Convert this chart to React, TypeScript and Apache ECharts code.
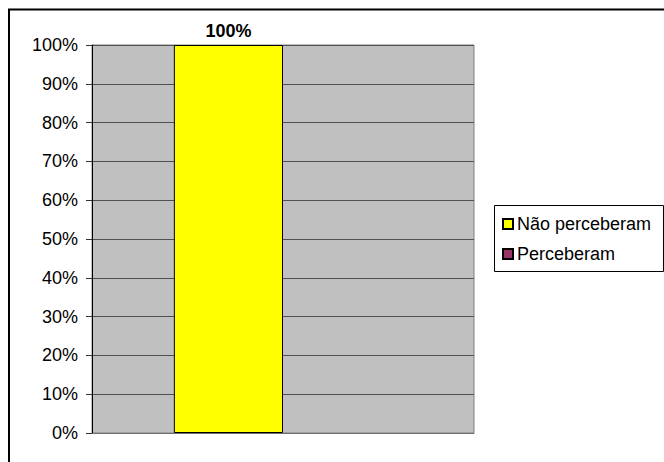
import React, { useEffect, useRef } from "react";
import * as echarts from "echarts";

const categories = [""];
const seriesNames = ["Não perceberam", "Perceberam"];
const naoPerceberam = [100];
const perceberam = [0];
const yTicks = [0, 10, 20, 30, 40, 50, 60, 70, 80, 90, 100];

const FONT = "'Liberation Sans', Arial, sans-serif";

export default function App() {
  const ref = useRef<HTMLDivElement>(null);
  useEffect(() => {
    if (!ref.current) return;
    const chart = echarts.init(ref.current, null, { renderer: "svg" });
    chart.setOption({
      animation: false,
      textStyle: { fontFamily: FONT },
      graphic: [
        {
          type: "rect",
          shape: { x: 9, y: 9.5, width: 700, height: 500 },
          style: { fill: "none", stroke: "#000", lineWidth: 2 },
          z: 0,
        },
        {
          type: "rect",
          shape: { x: 494.5, y: 205.5, width: 169, height: 66 },
          style: { fill: "#fff", stroke: "#000", lineWidth: 1 },
          z: 1,
        },
      ],
      legend: {
        orient: "vertical",
        left: 497,
        top: 210,
        itemWidth: 10,
        itemHeight: 10,
        itemGap: 12,
        icon: "rect",
        textStyle: { fontFamily: FONT, fontSize: 18, color: "#000", padding: [0, 0, 0, -1] },
        data: seriesNames,
        z: 5,
      },
      grid: {
        left: 92,
        top: 45,
        right: 190,
        bottom: 29,
        show: true,
        backgroundColor: "#C0C0C0",
        borderColor: "#808080",
        borderWidth: 1,
      },
      xAxis: {
        type: "category",
        data: categories,
        axisLine: { show: true, lineStyle: { color: "#707070", width: 1 } },
        axisTick: { show: false },
        axisLabel: { show: false },
      },
      yAxis: {
        type: "value",
        min: 0,
        max: 100,
        interval: 10,
        axisLine: { show: true, lineStyle: { color: "#000", width: 1 } },
        axisTick: { show: true, length: 6, lineStyle: { color: "#333" } },
        splitLine: { show: true, lineStyle: { color: "#505050", width: 1 } },
        axisLabel: {
          margin: 14,
          fontFamily: FONT,
          fontSize: 18,
          color: "#000",
          formatter: (v: number) => (yTicks.includes(v) ? v + "%" : ""),
        },
      },
      series: [
        {
          name: seriesNames[0],
          type: "bar",
          data: naoPerceberam,
          barGap: "0%",
          barCategoryGap: "42.86%",
          itemStyle: { color: "#FFFF00", borderColor: "#000", borderWidth: 1 },
          label: {
            show: true,
            position: "top",
            distance: 5,
            fontFamily: FONT,
            fontSize: 18,
            fontWeight: "bold",
            color: "#000",
            formatter: (p: any) => p.value + "%",
          },
        },
        {
          name: seriesNames[1],
          type: "bar",
          data: perceberam.map((v) => ({ value: v, itemStyle: { borderWidth: 0 } })),
          itemStyle: { color: "#993366", borderColor: "#000", borderWidth: 1 },
        },
      ],
    });
    return () => chart.dispose();
  }, []);
  return (
    <div
      ref={ref}
      style={{ position: "absolute", left: 0, top: 0, width: 664, height: 462, background: "#fff" }}
    />
  );
}
